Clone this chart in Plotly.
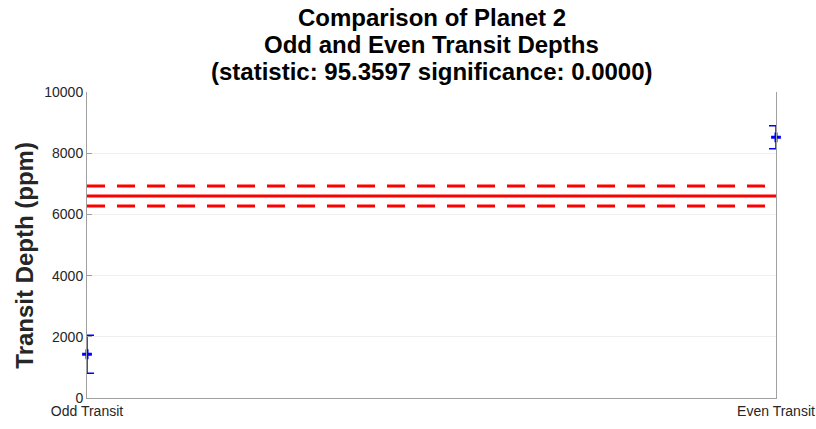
import plotly.graph_objects as go

categories = ["Odd Transit", "Even Transit"]
depths = [1430, 8520]
depth_errors = [620, 375]
mean_depth = 6600
mean_error = 325
yticks = [0, 2000, 4000, 6000, 8000, 10000]
title_lines = ["Comparison of Planet 2", "Odd and Even Transit Depths",
               "(statistic: 95.3597 significance: 0.0000)"]

xpos = list(range(len(categories)))
FONT = "Liberation Sans, Arial, Helvetica, sans-serif"

fig = go.Figure()
fig.add_trace(go.Scatter(
    x=[xpos[0], xpos[-1]], y=[mean_depth, mean_depth], mode="lines",
    line=dict(color="#ff0000", width=3), hoverinfo="skip", cliponaxis=False))
for s in (-1, 1):
    fig.add_trace(go.Scatter(
        x=[xpos[0], xpos[-1]], y=[mean_depth + s * mean_error] * 2, mode="lines",
        line=dict(color="#ff0000", width=3, dash="18px,12px"), hoverinfo="skip",
        cliponaxis=False))
fig.add_trace(go.Scatter(
    x=xpos, y=depths, mode="markers",
    marker=dict(symbol="cross-thin", size=7, color="#0000ff",
                line=dict(color="#0000ff", width=3)),
    error_y=dict(type="data", array=depth_errors, color="#0000ff",
                 thickness=1.5, width=7),
    cliponaxis=False))

ys = [17, 44, 71]
for t, y in zip(title_lines, ys):
    fig.add_annotation(text="<b>%s</b>" % t, xref="paper", yref="paper",
                       x=0.5, y=1 + (92 - y) / 306, xanchor="center", yanchor="middle",
                       showarrow=False, font=dict(family=FONT, size=24, color="black"))

fig.add_annotation(text="<b>Transit Depth (ppm)</b>", xref="paper", yref="paper",
                   x=-(87 - 25) / 689, y=0.465, xanchor="center", yanchor="middle",
                   textangle=-90, showarrow=False,
                   font=dict(family=FONT, size=24, color="#262626"))

fig.update_layout(
    width=816, height=429,
    margin=dict(l=87, r=40, t=92, b=31, autoexpand=False),
    paper_bgcolor="white", plot_bgcolor="white",
    showlegend=False,
    font=dict(family=FONT, size=14, color="#262626"),
)
fig.update_xaxes(
    range=[xpos[0], xpos[-1]], tickvals=xpos, ticktext=categories,
    showgrid=False, zeroline=False, showline=True, linecolor="#a0a0a0",
    linewidth=1, mirror=False, ticks="", automargin=False,
    tickfont=dict(size=14, color="#262626"))
fig.update_yaxes(
    range=[0, 10000], tickvals=yticks, ticktext=[str(v) for v in yticks],
    showgrid=True, gridcolor="#efefef", gridwidth=1, zeroline=False,
    showline=True, linecolor="#a0a0a0", linewidth=1, mirror=True,
    ticks="inside", ticklen=5, tickcolor="#a0a0a0", automargin=False,
    tickfont=dict(size=14, color="#262626"))

fig.write_html("out.html", config={"displayModeBar": False},
               post_script="document.body.style.margin='0';document.body.style.overflow='hidden';")
